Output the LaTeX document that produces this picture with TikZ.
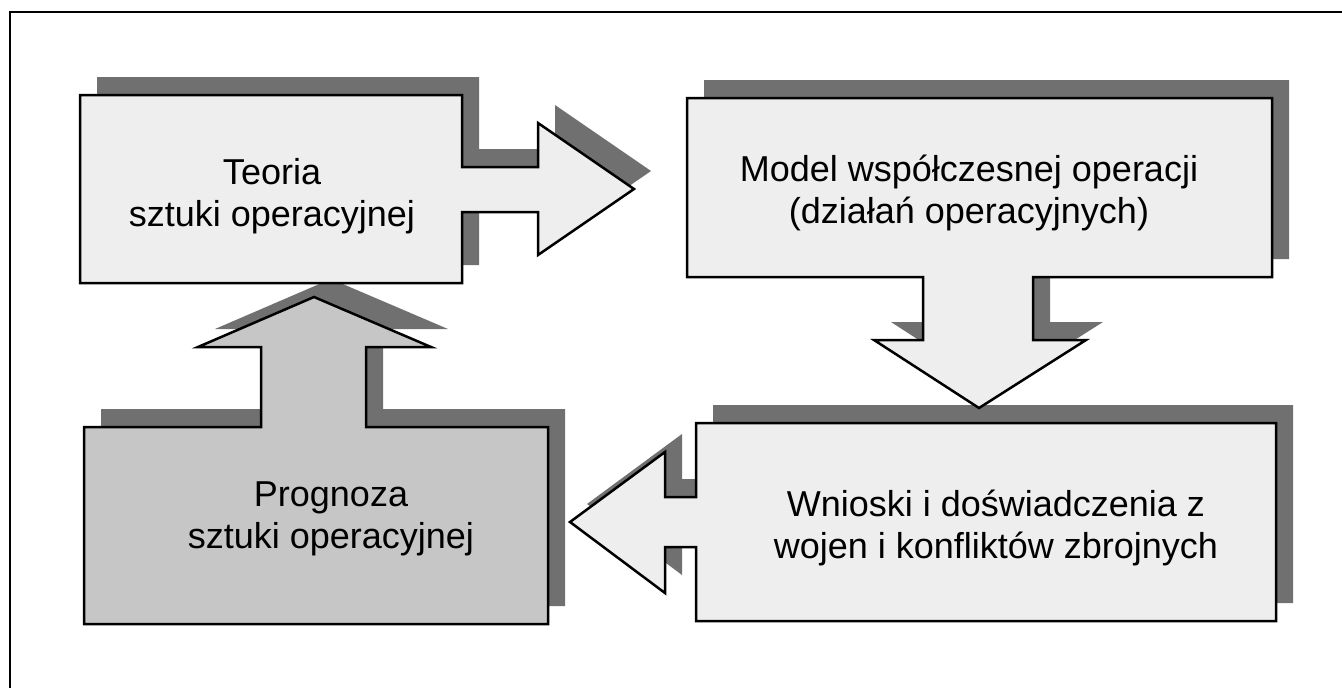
\documentclass[tikz,border=0pt]{standalone}
\usepackage{fontspec}
\setmainfont{Liberation Sans}
\definecolor{boxlight}{HTML}{EEEEEE}
\definecolor{boxdark}{HTML}{C6C6C6}
\definecolor{shadowgray}{HTML}{707070}
\tikzset{
 shp/.style={draw=black,line width=2.5pt,line join=miter},
 lightshape/.style={shp,fill=boxlight},
 darkshape/.style={shp,fill=boxdark},
 shadowshape/.style={fill=shadowgray},
 lbl/.style={align=center,font=\fontsize{36}{42}\selectfont,inner sep=0pt},
 shapeA/.pic={\path[pic actions] (80,95) -- (462,95) -- (462,167) -- (538,167) -- (538,123) -- (634,189) -- (538,255) -- (538,212) -- (462,212) -- (462,283) -- (80,283) -- cycle;},
 shapeB/.pic={\path[pic actions] (687,98) -- (1272,98) -- (1272,277) -- (1033,277) -- (1033,340) -- (1086,340) -- (979,408) -- (874,340) -- (923,340) -- (923,277) -- (687,277) -- cycle;},
 shapeC/.pic={\path[pic actions] (696,423) -- (1276,423) -- (1276,621) -- (696,621) -- (696,547) -- (665,547) -- (665,593) -- (570,522) -- (665,452) -- (665,497) -- (696,497) -- cycle;},
 shapeD/.pic={\path[pic actions] (84,427) -- (261,427) -- (261,347) -- (198,347) -- (314,297) -- (431,347) -- (366,347) -- (366,427) -- (548,427) -- (548,624) -- (84,624) -- cycle;},
}
\begin{document}
\begin{tikzpicture}[x=1pt,y=-1pt]
\useasboundingbox (0,0) rectangle (1342,688);
\fill[white] (0,0) rectangle (1342,688);
% frame
\draw[line width=2pt] (10,688) -- (10,12) -- (1342,12);
% shadows
\pic[shadowshape] at (17,-18) {shapeA};
\pic[shadowshape] at (17,-18) {shapeB};
\pic[shadowshape] at (17,-18) {shapeC};
\pic[shadowshape] at (17,-18) {shapeD};
% shapes
\pic[darkshape] at (0,0) {shapeD};
\pic[lightshape] at (0,0) {shapeA};
\pic[lightshape] at (0,0) {shapeB};
\pic[lightshape] at (0,0) {shapeC};
% labels
\node[lbl] (teoria) at (272,196) {Teoria\\sztuki operacyjnej};
\node[lbl] (model) at (969,193) {Model współczesnej operacji\\(działań operacyjnych)};
\node[lbl] (wnioski) at (996,528) {Wnioski i doświadczenia z\\wojen i konfliktów zbrojnych};
\node[lbl] (prognoza) at (331,519) {Prognoza\\sztuki operacyjnej};
\end{tikzpicture}
\end{document}
